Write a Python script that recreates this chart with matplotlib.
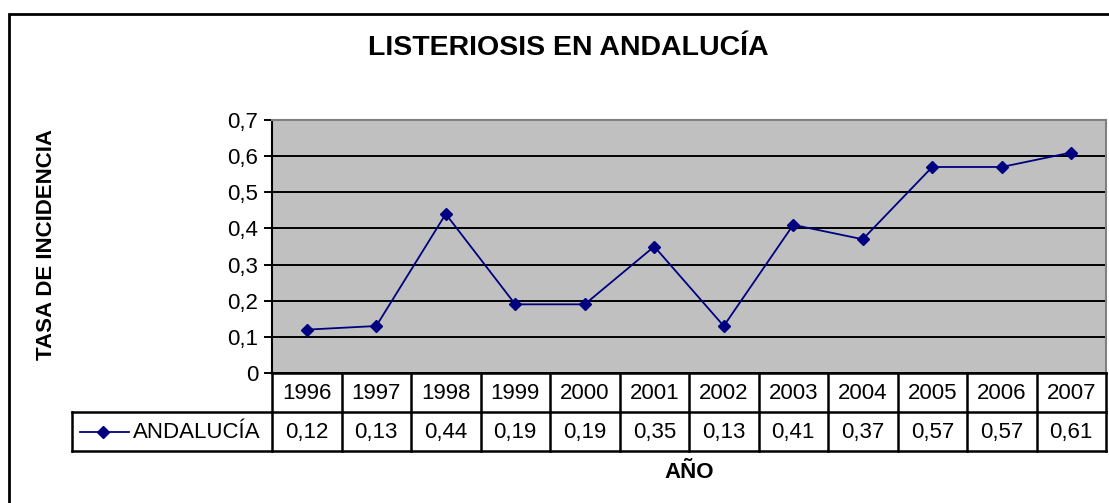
import numpy as np
import matplotlib.pyplot as plt
from matplotlib.patches import Rectangle

plt.rcParams['font.family'] = ['Liberation Sans', 'DejaVu Sans']

# data
years = ['1996', '1997', '1998', '1999', '2000', '2001', '2002', '2003', '2004', '2005', '2006', '2007']
andalucia = [0.12, 0.13, 0.44, 0.19, 0.19, 0.35, 0.13, 0.41, 0.37, 0.57, 0.57, 0.61]
series_name = 'ANDALUCÍA'
title = 'LISTERIOSIS EN ANDALUCÍA'

W, H = 1109, 503
fig = plt.figure(figsize=(W / 100, H / 100), dpi=100)

def box(x0, y0, x1, y1):
    # pixel box (top-left origin) -> figure fraction
    return [x0 / W, 1 - y1 / H, (x1 - x0) / W, (y1 - y0) / H]

# outer frame
fig.patches.append(Rectangle((9 / W, -0.05), 1.1, 1 - 14 / H + 0.05, transform=fig.transFigure,
                             fill=False, edgecolor='black', linewidth=2))

# plot area
px0, px1, py0, py1 = 272, 1106, 120, 373
ax = fig.add_axes(box(px0, py0, px1, py1))
ax.set_facecolor('#c0c0c0')
x = np.arange(len(years))
ax.plot(x, andalucia, color='#000080', linewidth=1.3, marker='D', markersize=6.5)
ax.set_xlim(-0.5, len(years) - 0.5)
ax.set_ylim(0, 0.7)
yt = np.arange(0, 0.71, 0.1)
ax.set_yticks(yt)
ax.set_yticklabels(['0' if v == 0 else ('%.1f' % v).replace('.', ',') for v in yt], fontsize=16)
ax.yaxis.grid(True, color='black', linewidth=1.4)
ax.set_axisbelow(True)
ax.set_xticks([])
ax.tick_params(axis='y', length=6, width=1.4, pad=4)
ax.spines['left'].set_color('black')
ax.spines['left'].set_linewidth(1.5)
ax.spines['bottom'].set_visible(False)
for s in ['top', 'right']:
    ax.spines[s].set_color('#808080')
    ax.spines[s].set_linewidth(1.5)

# data table under the plot
colw = (px1 - px0) / len(years)
tx0 = 72
tb = fig.add_axes(box(tx0, py1, px1, 451))
tb.set_xlim(-0.5 - (px0 - tx0) / colw, len(years) - 0.5)
tb.set_ylim(2, 0)
tb.axis('off')
lk = dict(color='black', linewidth=1.8, solid_capstyle='projecting', clip_on=False)
lx0 = tb.get_xlim()[0]
tb.plot([-0.5, len(years) - 0.5], [0, 0], **lk)
tb.plot([lx0, len(years) - 0.5], [1, 1], **lk)
tb.plot([lx0, len(years) - 0.5], [2, 2], **lk)
tb.plot([lx0, lx0], [1, 2], **lk)
for i in range(len(years) + 1):
    tb.plot([i - 0.5, i - 0.5], [0, 2], **lk)
for i, (yr, v) in enumerate(zip(years, andalucia)):
    tb.text(i, 0.52, yr, ha='center', va='center', fontsize=16)
    tb.text(i, 1.52, ('%.2f' % v).replace('.', ','), ha='center', va='center', fontsize=16)
tb.plot([lx0 + 0.12, lx0 + 0.82], [1.5, 1.5], color='#000080', linewidth=1.3)
tb.plot([lx0 + 0.45], [1.5], color='#000080', marker='D', markersize=6.5)
tb.text(lx0 + 0.87, 1.52, series_name, ha='left', va='center', fontsize=16)

fig.text(568 / W, 1 - 48 / H, title, ha='center', va='center', fontsize=20.5, fontweight='bold')
fig.text(47 / W, 1 - 245 / H, 'TASA DE INCIDENCIA', ha='center', va='center', rotation=90,
         fontsize=16, fontweight='bold')
fig.text(689 / W, 1 - 472 / H, 'AÑO', ha='center', va='center', fontsize=16, fontweight='bold')

fig.savefig('out.png', dpi=100)
